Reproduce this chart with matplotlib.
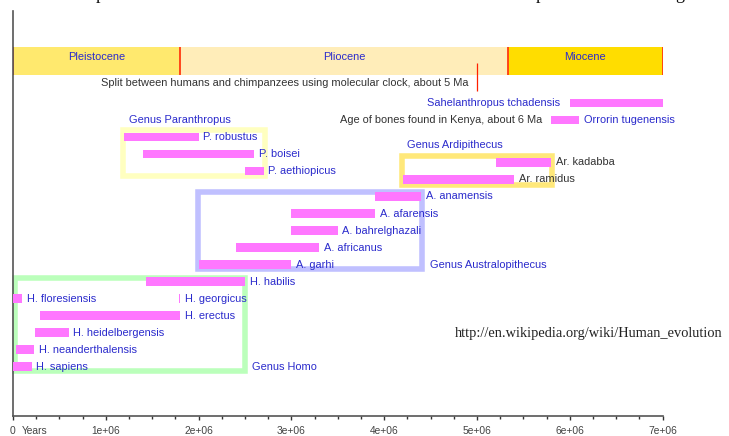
import matplotlib
matplotlib.use('Agg')
import matplotlib.pyplot as plt
from matplotlib.patches import Rectangle

plt.rcParams['font.family'] = ['Liberation Sans', 'DejaVu Sans']

# geological epochs (years before present)
epoch_names = ['Pleistocene', 'Pliocene', 'Miocene']
epoch_start = [0, 1.8e6, 5.33e6]
epoch_end = [1.8e6, 5.33e6, 7.0e6]
epoch_colors = ['#ffe96e', '#ffedb9', '#ffdd00']

# species ranges: name, start, end, row, label side, label colour
species = ['Sahelanthropus tchadensis', 'Orrorin tugenensis',
           'P. robustus', 'P. boisei', 'Ar. kadabba', 'P. aethiopicus', 'Ar. ramidus',
           'A. anamensis', 'A. afarensis', 'A. bahrelghazali', 'A. africanus', 'A. garhi',
           'H. habilis', 'H. floresiensis', 'H. georgicus', 'H. erectus',
           'H. heidelbergensis', 'H. neanderthalensis', 'H. sapiens']
sp_start = [6.0e6, 5.8e6,
            1.2e6, 1.4e6, 5.2e6, 2.5e6, 4.2e6,
            3.9e6, 3.0e6, 3.0e6, 2.4e6, 2.0e6,
            1.43e6, 0.0, 1.785e6, 0.29e6,
            0.24e6, 0.03e6, 0.0]
sp_end = [7.0e6, 6.1e6,
          2.0e6, 2.6e6, 5.8e6, 2.7e6, 5.4e6,
          4.4e6, 3.9e6, 3.5e6, 3.3e6, 3.0e6,
          2.5e6, 0.1e6, 1.8e6, 1.8e6,
          0.6e6, 0.23e6, 0.2e6]
sp_row = [0, 1, 2, 3, 3.5, 4, 4.5, 5.5, 6.5, 7.5, 8.5, 9.5,
          10.5, 11.5, 11.5, 12.5, 13.5, 14.5, 15.5]
sp_side = ['left'] + ['right'] * 18
BLUE = '#2b2bcc'
GRAY = '#333333'
sp_color = [BLUE, BLUE, BLUE, BLUE, GRAY, BLUE, GRAY] + [BLUE] * 12

# genus boxes: name, x0, x1, row top, row bottom, colour, label x, label row
genus_names = ['Genus Paranthropus', 'Genus Ardipithecus', 'Genus Australopithecus', 'Genus Homo']
genus_x0 = [1.18e6, 4.19e6, 1.99e6, 0.02e6]
genus_x1 = [2.71e6, 5.81e6, 4.41e6, 2.50e6]
genus_top = [1.62, 3.12, 5.24, 10.29]
genus_bottom = [4.32, 4.82, 9.79, 15.78]
genus_colors = ['#ffffc0', '#ffe87a', '#c0c0ff', '#bbffbb']
genus_label_x = [1.245e6, 4.25e6, 4.49e6, 2.58e6]
genus_label_row = [1.0, 2.5, 9.5, 15.5]

ticks = [0, 1e6, 2e6, 3e6, 4e6, 5e6, 6e6, 7e6]
tick_labels = ['0', '1e+06', '2e+06', '3e+06', '4e+06', '5e+06', '6e+06', '7e+06']

fig = plt.figure(figsize=(7.29, 4.36), dpi=100)
ax = fig.add_axes([13 / 729, 1 - 416 / 436, (662.7 - 13) / 729, (416 - 11) / 436])
ax.set_xlim(0, 7e6)
ax.set_ylim(18.40, -5.40)

# epochs band
for name, s, e, c in zip(epoch_names, epoch_start, epoch_end, epoch_colors):
    ax.barh(-2.455, e - s, left=s, height=1.63, color=c, linewidth=0, zorder=1)
    ax.text((s + e) / 2, -2.72, name, ha='center', va='center', color=BLUE, fontsize=7.9)
ax.vlines(epoch_start + [epoch_end[-1]], -3.27, -1.64, color='#ff3a10', linewidth=1.3, zorder=2)

# chimp split marker
ax.vlines(5e6, -2.33, -0.72, color='#ff2000', linewidth=0.9)
ax.annotate('Split between humans and chimpanzees using molecular clock, about 5 Ma',
            xy=(5e6, -1.15), xytext=(-6.5, 0), textcoords='offset points',
            ha='right', va='center', color=GRAY, fontsize=7.9)
ax.annotate('Age of bones found in Kenya, about 6 Ma',
            xy=(5.8e6, 1), xytext=(-6.2, 0), textcoords='offset points',
            ha='right', va='center', color=GRAY, fontsize=7.9)

# genus boxes
for name, x0, x1, t, b, c, lx, lr in zip(genus_names, genus_x0, genus_x1, genus_top,
                                          genus_bottom, genus_colors, genus_label_x, genus_label_row):
    ax.add_patch(Rectangle((x0, t), x1 - x0, b - t, fill=False, edgecolor=c,
                           linewidth=4.0, joinstyle='miter', zorder=2, clip_on=False))
    ax.text(lx, lr, name, ha='left', va='center', color=BLUE, fontsize=7.9)

# species bars
ax.barh(sp_row, [e - s for s, e in zip(sp_start, sp_end)], left=sp_start,
        height=0.5, color='#ff77ff', linewidth=0, zorder=3)
for name, s, e, r, side, c in zip(species, sp_start, sp_end, sp_row, sp_side, sp_color):
    if side == 'right':
        ax.annotate(name, xy=(e, r), xytext=(3.3, 0), textcoords='offset points',
                    ha='left', va='center', color=c, fontsize=7.9, annotation_clip=False)
    else:
        ax.annotate(name, xy=(s, r), xytext=(-7, 0), textcoords='offset points',
                    ha='right', va='center', color=c, fontsize=7.9, annotation_clip=False)

ax.text(455 / 729, 1 - 334 / 436, 'http://en.wikipedia.org/wiki/Human_evolution',
        transform=fig.transFigure, ha='left', va='center', fontsize=10.4,
        family='Liberation Serif', color='#222222')

# fragments of text cut off at the top edge
for fx, ch in [(100, 'p'), (540, 'p'), (680, 'g')]:
    fig.text(fx / 729, 1 + 1.5 / 436, ch, ha='center', va='baseline', fontsize=13,
             family='Liberation Serif', color='#111111')

# axes styling
for side in ['top', 'right']:
    ax.spines[side].set_visible(False)
for side in ['left', 'bottom']:
    ax.spines[side].set_color('#555555')
    ax.spines[side].set_linewidth(1.2)
ax.set_yticks([])
ax.set_xticks(ticks)
ax.set_xticklabels(tick_labels)
ax.set_xticks([i * 2.5e5 for i in range(29)], minor=True)
ax.tick_params(axis='x', which='major', direction='out', length=3, width=1,
               color='#333333', labelsize=7.4, labelcolor='#444444', pad=4)
ax.tick_params(axis='x', which='minor', direction='out', length=1.8, width=1, color='#333333')
ax.annotate('Years', xy=(0, 0), xycoords=('data', 'axes fraction'), xytext=(6.5, -7),
            textcoords='offset points', ha='left', va='top', fontsize=7.4, color='#444444')

fig.savefig('out.png', dpi=100)
plt.close(fig)
